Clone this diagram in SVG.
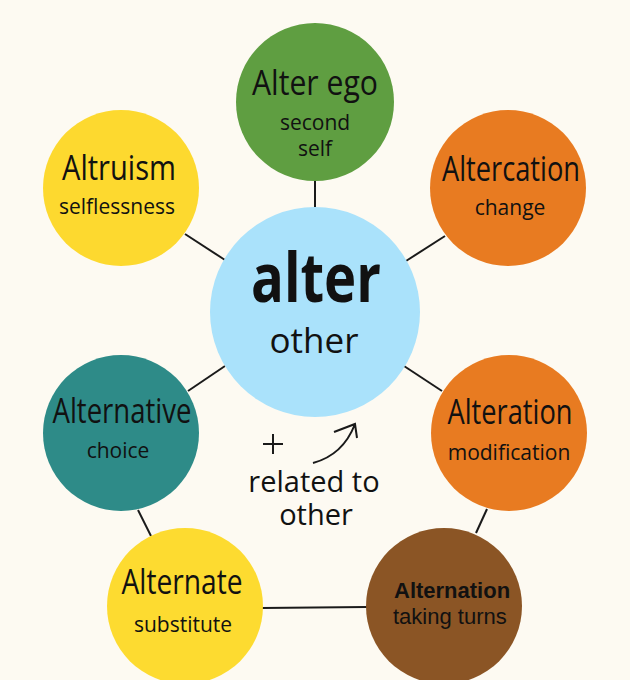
<svg xmlns="http://www.w3.org/2000/svg" width="630" height="680" viewBox="0 0 630 680">
<style>
.t{font-family:"Open Sans","Noto Sans",sans-serif;fill:#111;text-anchor:middle}
.h{font-size:34px}
.s{font-size:21px}
.a{font-family:"Liberation Sans",Arial,sans-serif;fill:#111;font-size:22px}
.ln{stroke:#1a1a1a;stroke-width:2;fill:none}
</style>
<rect width="630" height="680" fill="#FDFAF2"/>
<g id="connectors" class="ln">
<line x1="315" y1="181" x2="315" y2="208"/>
<line x1="185" y1="234" x2="225" y2="260"/>
<line x1="445" y1="236" x2="406" y2="261"/>
<line x1="225" y1="366" x2="188" y2="391"/>
<line x1="404" y1="366" x2="442" y2="391"/>
<line x1="138" y1="510" x2="151" y2="536"/>
<line x1="487" y1="509" x2="476" y2="533"/>
<line x1="262" y1="608" x2="367" y2="607"/>
</g>
<g id="alter-ego">
<circle cx="315" cy="102" r="79" fill="#5F9E41"/>
<text class="t h" x="315" y="95" textLength="126" lengthAdjust="spacingAndGlyphs">Alter ego</text>
<text class="t s" x="315" y="130">second</text>
<text class="t s" x="315" y="156">self</text>
</g>
<g id="altruism">
<circle cx="121" cy="188" r="78" fill="#FDD92F"/>
<text class="t h" x="119" y="180" textLength="114" lengthAdjust="spacingAndGlyphs">Altruism</text>
<text class="t s" x="117" y="214">selflessness</text>
</g>
<g id="altercation">
<circle cx="508" cy="188" r="78" fill="#E87B21"/>
<text class="t h" x="511" y="181" textLength="138" lengthAdjust="spacingAndGlyphs">Altercation</text>
<text class="t s" x="510" y="215">change</text>
</g>
<g id="alter">
<circle cx="315" cy="312" r="105" fill="#AAE2FB"/>
<text class="t" x="316" y="302" font-size="68" font-weight="700" textLength="130" lengthAdjust="spacingAndGlyphs">alter</text>
<text class="t" x="314" y="353" font-size="35">other</text>
</g>
<g id="alternative">
<circle cx="121" cy="433" r="78" fill="#2E8B88"/>
<text class="t h" x="122" y="423" textLength="139" lengthAdjust="spacingAndGlyphs">Alternative</text>
<text class="t s" x="118" y="458">choice</text>
</g>
<g id="alteration">
<circle cx="509" cy="433" r="78" fill="#E87B21"/>
<text class="t h" x="510" y="424" textLength="125" lengthAdjust="spacingAndGlyphs">Alteration</text>
<text class="t s" x="509" y="460">modification</text>
</g>
<g id="alternate">
<circle cx="185" cy="606" r="78" fill="#FDDB30"/>
<text class="t h" x="182" y="594" textLength="121" lengthAdjust="spacingAndGlyphs">Alternate</text>
<text class="t s" x="183" y="632">substitute</text>
</g>
<g id="alternation">
<circle cx="444" cy="606" r="78" fill="#8B5525"/>
<text class="a" x="394" y="598" font-weight="700">Alternation</text>
<text class="a" x="393" y="624">taking turns</text>
</g>
<g id="note">
<path class="ln" d="M263 444 H283 M273 434 V454"/>
<path class="ln" d="M313 463 Q343 455 355 424 M334 432 L355 424 L357 438"/>
<text class="t" x="314" y="492" font-size="29">related to</text>
<text class="t" x="316" y="525" font-size="29">other</text>
</g>
</svg>
